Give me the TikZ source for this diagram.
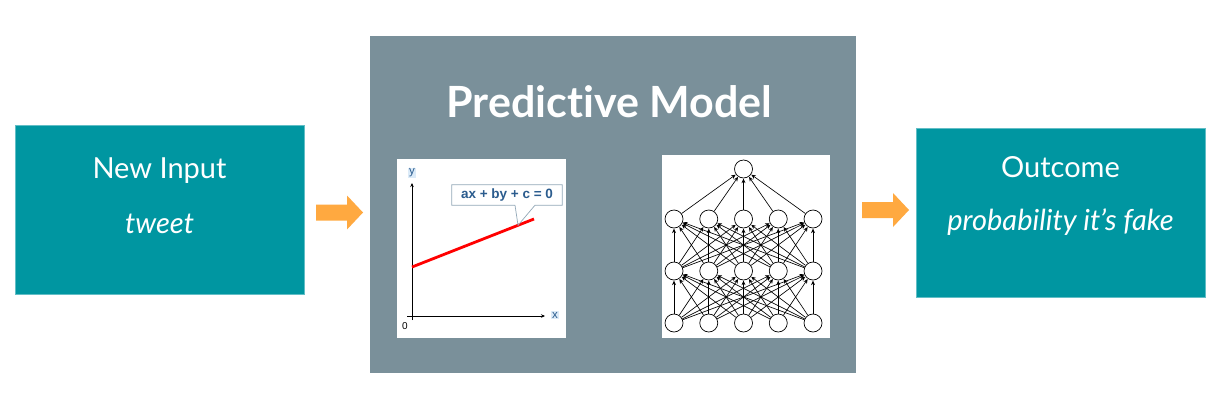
\documentclass[tikz,border=0pt]{standalone}
\usepackage{fontspec}
\setmainfont{Lato}[Ligatures=NoCommon]
\newfontfamily\plotfont{Liberation Sans}
\usetikzlibrary{positioning,arrows.meta,calc}

\definecolor{tealbox}{HTML}{0096A1}
\definecolor{tealedge}{HTML}{62BEC6}
\definecolor{greybox}{HTML}{7A909A}
\definecolor{arroworange}{HTML}{FFA940}
\definecolor{eqblue}{HTML}{2B5C8E}
\definecolor{eqedge}{HTML}{93A8B8}
\definecolor{labelbg}{HTML}{DCEBF8}

\tikzset{
  stagebox/.style={draw=tealedge, line width=0.8pt, fill=tealbox, minimum width=289pt, minimum height=169pt, inner sep=0pt},
  stagetext/.style={text=white, font=\fontsize{29}{34}\selectfont, anchor=base, inner sep=0pt},
  panel/.style={fill=white, draw=none},
  neuron/.style={circle, draw, fill=white, line width=0.7pt, minimum size=18pt, inner sep=0pt},
  synapse/.style={-{Stealth[length=4.5pt,width=4pt]}, line width=0.65pt, shorten >=0.3pt},
  axislabel/.style={font=\plotfont\fontsize{11.5}{11.5}\selectfont, text=eqblue, fill=labelbg, inner sep=1.2pt}
}

\newcommand{\fatarrow}[2]{%
  \fill[arroworange] (#1,#2) ++(0,-8) -- ++(31,0) -- ++(0,-9) -- ++(16,17)
    -- ++(-16,17) -- ++(0,-9) -- ++(-31,0) -- cycle;}

\begin{document}
\begin{tikzpicture}[x=1pt, y=-1pt]
  \useasboundingbox[fill=white] (0,0) rectangle (1220,410);

  % Input and outcome boxes
  \node[stagebox] (input) at (159.5,209.5) {};
  \node[stagetext] (inputtitle) at (159.5,178) {New Input};
  \node[stagetext] (inputsub) at (159.5,233) {\itshape tweet};

  \node[stagebox] (outcome) at (1060.5,212.5) {};
  \node[stagetext] (outcometitle) at (1060.5,177) {Outcome};
  \node[stagetext] (outcomesub) at (1060.5,230) {\itshape probability it’s fake};

  % Model box
  \node[fill=greybox, minimum width=486pt, minimum height=337pt, inner sep=0pt] (model) at (613,204.5) {};
  \node[text=white, font=\bfseries\fontsize{43}{48}\selectfont, anchor=base, inner sep=0pt] (modeltitle) at (609.5,117) {Predictive Model};

  % Arrows between boxes
  \fatarrow{316}{212.5}
  \fatarrow{862}{210}

  % Linear model panel
  \fill[panel] (397,159) rectangle (566,338);
  \coordinate (origin) at (412,316);
  \draw[line width=0.8pt, -{Stealth[length=4pt,width=3.5pt]}] (407,316) -- (545,316);
  \draw[line width=0.8pt, -{Stealth[length=4pt,width=3.5pt]}] (412,320) -- (412,183);
  \node[axislabel] (ylabel) at (412,173) {y};
  \node[axislabel] (xlabel) at (555,315) {x};
  \node[font=\plotfont\fontsize{10}{10}\selectfont, inner sep=0pt] (zero) at (405,326) {0};

  \coordinate (linestart) at (412,267);
  \coordinate (lineend) at (534,219);
  \draw[red, line width=2.8pt] (linestart) -- (lineend);
  \coordinate (tailtip) at ($(linestart)!0.869!(lineend)$);

  \node[font=\plotfont\bfseries\fontsize{13.5}{13.5}\selectfont, text=eqblue, minimum width=110pt, minimum height=20pt, inner sep=0pt] (equation) at (507,195) {ax + by + c = 0};
  \draw[eqedge, line width=0.7pt] ([xshift=8pt]equation.south) -- (equation.south west) -- (equation.north west)
    -- (equation.north east) -- (equation.south east) -- ([xshift=28pt]equation.south) -- (tailtip)
    -- ([xshift=8pt]equation.south);

  % Neural network panel
  \fill[panel] (662,155) rectangle (830,338);
  \foreach \i in {1,...,5} {
    \node[neuron] (in-\i) at ({674+34.75*(\i-1)},323) {};
    \node[neuron] (hida-\i) at ({674+34.75*(\i-1)},271) {};
    \node[neuron] (hidb-\i) at ({674+34.75*(\i-1)},219) {};
  }
  \node[neuron] (out) at (743.5,169) {};

  \foreach \i in {1,...,5} {
    \foreach \j in {1,...,5} {
      \draw[synapse] (in-\i) -- (hida-\j);
      \draw[synapse] (hida-\i) -- (hidb-\j);
    }
    \draw[synapse] (hidb-\i) -- (out);
  }
\end{tikzpicture}
\end{document}
